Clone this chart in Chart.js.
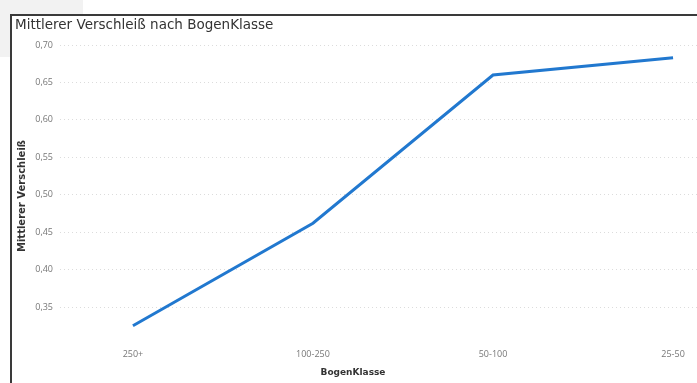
<!DOCTYPE html>
<html>
<head>
<meta charset="utf-8">
<script src="https://cdn.jsdelivr.net/npm/chart.js@4/dist/chart.umd.min.js"></script>
<style>
  html, body { margin: 0; padding: 0; background: #ffffff; }
  body { width: 697px; height: 383px; position: relative; overflow: hidden; }
  #patch { position: absolute; left: 0; top: 0; width: 83px; height: 57px; background: #f2f2f2; }
  #panel { position: absolute; left: 10px; top: 14px; width: 687px; height: 369px; background: #ffffff;
           border-top: 2px solid #3a3a3a; border-left: 2px solid #3a3a3a; box-sizing: border-box; }
  #wrap { position: absolute; left: 12px; top: 16px; width: 685px; height: 367px; }
</style>
</head>
<body>
<div id="patch"></div>
<div id="panel"></div>
<div id="wrap"><canvas id="c" width="685" height="367"></canvas></div>
<script>
// Bend classes and the mean wear per class
const categories = ['250+', '100-250', '50-100', '25-50'];
const meanWear = [0.325, 0.462, 0.660, 0.683];
const yTicks = [0.35, 0.40, 0.45, 0.50, 0.55, 0.60, 0.65, 0.70];

const titleText = 'Mittlerer Verschleiß nach BogenKlasse';
const yTitle = 'Mittlerer Verschleiß';
const xTitle = 'BogenKlasse';

const tickFont = '"Open Sans", "Liberation Sans", sans-serif';
const headFont = '"DejaVu Sans", "Liberation Sans", sans-serif';

// chart title and both axis titles, placed around the plot area
const titlesPlugin = {
  id: 'titles',
  afterDraw(chart) {
    const ctx = chart.ctx;
    ctx.save();
    ctx.fillStyle = '#333333';

    ctx.font = '13.5px ' + headFont;
    ctx.textAlign = 'left';
    ctx.textBaseline = 'alphabetic';
    ctx.fillText(titleText, 3, 13);

    ctx.textBaseline = 'middle';
    ctx.font = 'bold 9px ' + headFont;
    ctx.textAlign = 'center';
    ctx.fillText(xTitle, 341, 357);

    ctx.font = 'bold 10px ' + headFont;
    ctx.translate(10, 180);
    ctx.rotate(-Math.PI / 2);
    ctx.fillText(yTitle, 0, 0);
    ctx.restore();
  }
};

new Chart(document.getElementById('c'), {
  type: 'line',
  data: {
    datasets: [{
      data: meanWear.map((v, i) => ({ x: i, y: v })),
      borderColor: '#2178cf',
      borderWidth: 3,
      pointRadius: 0,
      tension: 0,
      fill: false
    }]
  },
  plugins: [titlesPlugin],
  options: {
    responsive: false,
    animation: false,
    events: [],
    layout: { padding: { left: 0, right: 0, top: 19, bottom: 0 } },
    plugins: {
      legend: { display: false },
      tooltip: { enabled: false },
      title: { display: false }
    },
    scales: {
      x: {
        type: 'linear',
        min: -0.405,
        max: 3.133,
        afterBuildTicks(scale) { scale.ticks = categories.map((_, i) => ({ value: i })); },
        afterFit(scale) { scale.height = 43; },
        grid: { display: false, drawTicks: false },
        border: { display: false },
        ticks: {
          padding: 9,
          autoSkip: false,
          maxRotation: 0,
          color: '#777777',
          font: { family: tickFont, size: 9 },
          callback: v => categories[v]
        }
      },
      y: {
        min: 0.306,
        max: 0.7134,
        afterBuildTicks(scale) { scale.ticks = yTicks.map(v => ({ value: v })); },
        afterFit(scale) { scale.width = 48; },
        grid: { color: '#dcdcdc', lineWidth: 1, drawTicks: false },
        border: { display: false, dash: [1, 3] },
        ticks: {
          padding: 7,
          color: '#777777',
          font: { family: tickFont, size: 9 },
          callback: v => v.toFixed(2).replace('.', ',')
        }
      }
    }
  }
});
</script>
</body>
</html>
